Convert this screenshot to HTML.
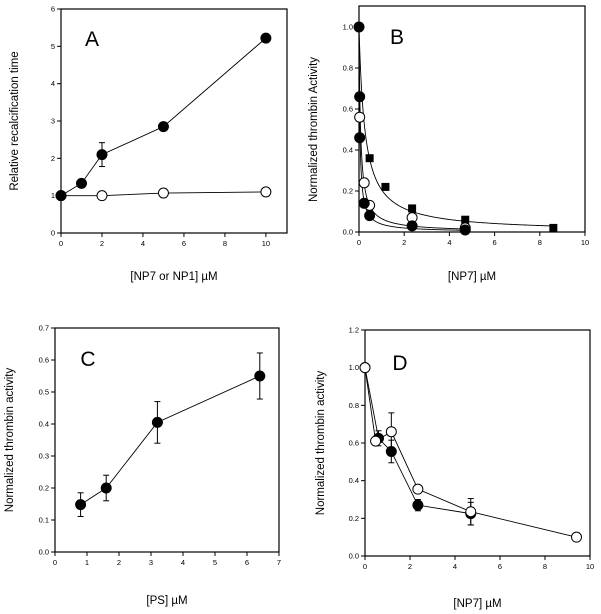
<!DOCTYPE html>
<html><head><meta charset="utf-8"><style>
body{margin:0;background:#fff}
svg{display:block;font-family:"Liberation Sans",sans-serif}
</style></head><body>
<svg id="s" width="601" height="614" viewBox="0 0 601 614"></svg>
<script>
// Panel A
const aX1=[0,1,2,5,10], aY1=[1,1.33,2.1,2.85,5.22], aE1=[0,0,0.32,0,0];
const aX2=[0,2,5,10], aY2=[1,1,1.07,1.1];
const aXT=[0,2,4,6,8,10], aYT=[0,1,2,3,4,5,6];
// Panel B
const bSqX=[0,0.47,1.17,2.35,4.7,8.6], bSqY=[1,0.36,0.22,0.115,0.06,0.02];
const bFcX=[0,0.03,0.03,0.23,0.47,2.35,4.7], bFcY=[1,0.66,0.46,0.14,0.08,0.03,0.01];
const bOcX=[0.03,0.23,0.47,2.35,4.7], bOcY=[0.56,0.24,0.13,0.07,0.02];
const bK=[0.26,0.04,0.07];
const bXT=[0,2,4,6,8,10], bYT=[0,0.2,0.4,0.6,0.8,1.0];
// Panel C
const cX=[0.8,1.6,3.2,6.4], cY=[0.148,0.2,0.405,0.55], cE=[0.037,0.04,0.065,0.072];
const cXT=[0,1,2,3,4,5,6,7], cYT=[0,0.1,0.2,0.3,0.4,0.5,0.6,0.7];
// Panel D
const dX1=[0,0.6,1.17,2.35,4.7], dY1=[1,0.625,0.555,0.27,0.225], dE1=[0,0.04,0.06,0.03,0.06];
const dX2=[0,0.47,1.17,2.35,4.7,9.4], dY2=[1,0.61,0.66,0.355,0.235,0.1], dE2=[0,0,0.1,0,0.07,0];
const dXT=[0,2,4,6,8,10], dYT=[0,0.2,0.4,0.6,0.8,1.0,1.2];

const S=document.getElementById('s');
function el(t,a,p){const e=document.createElementNS('http://www.w3.org/2000/svg',t);for(const k in a)e.setAttribute(k,a[k]);(p||S).appendChild(e);return e;}
function panel(o){
 const g=el('g',{});
 
 
 const sx=v=>o.l+(v-o.x0)/(o.x1-o.x0)*(o.r-o.l);
 const sy=v=>o.b-(v-o.y0)/(o.y1-o.y0)*(o.b-o.t0);
 const fr=el('rect',{x:o.l,y:o.top,width:o.r-o.l,height:o.b-o.top,fill:'none',stroke:'#000','stroke-width':1.2},g);
 
 
 o.xt.forEach(v=>{el('line',{x1:sx(v),x2:sx(v),y1:o.b,y2:o.b+4,stroke:'#000'},g);
  const t=el('text',{x:sx(v),y:o.b+13,'font-size':7.5,'text-anchor':'middle'},g);t.textContent=o.xf(v);
  });
 o.yt.forEach(v=>{el('line',{x1:o.l-4,x2:o.l,y1:sy(v),y2:sy(v),stroke:'#000'},g);
  const t=el('text',{x:o.l-6,y:sy(v)+2.5,'font-size':7.5,'text-anchor':'end'},g);t.textContent=o.yf(v);
  });
 const xt=el('text',{x:(o.l+o.r)/2,y:o.xty,'font-size':11.5,'text-anchor':'middle'},g);xt.textContent=o.xl;
 
 const yt=el('text',{x:0,y:0,'font-size':11.5,'text-anchor':'middle',transform:`translate(${o.ytx},${(o.t0+o.b)/2}) rotate(-90)`},g);yt.textContent=o.yl;
 
 const pl=el('text',{x:o.lx,y:o.ly,'font-size':21,'text-anchor':'middle'},g);pl.textContent=o.id;
 
 return {g,sx,sy};
}
function series(P,xs,ys,es,type,line,name){
 const g=el('g',{},P.g);
 
 
 if(line) el('polyline',{points:xs.map((x,i)=>P.sx(x)+','+P.sy(ys[i])).join(' '),fill:'none',stroke:'#000','stroke-width':0.9},g);
 xs.forEach((x,i)=>{
  const cx=P.sx(x),cy=P.sy(ys[i]);
  if(es&&es[i]){const a=P.sy(ys[i]+es[i]),b=P.sy(ys[i]-es[i]);
   el('line',{x1:cx,x2:cx,y1:a,y2:b,stroke:'#000'},g);
   el('line',{x1:cx-3,x2:cx+3,y1:a,y2:a,stroke:'#000'},g);
   el('line',{x1:cx-3,x2:cx+3,y1:b,y2:b,stroke:'#000'},g);}
  let m;
  if(type==='sq') m=el('rect',{x:cx-4,y:cy-4,width:8,height:8,fill:'#000'},g);
  else m=el('circle',{cx,cy,r:5,fill:type==='open'?'#fff':'#000',stroke:'#000','stroke-width':1},g);
  
  
 });
}
function fit(P,K,xmax,name){
 const pts=[];for(let i=0;i<=200;i++){const x=xmax*Math.pow(i/200,2);pts.push(P.sx(x)+','+P.sy(1/(1+x/K)));}
 const p=el('polyline',{points:pts.join(' '),fill:'none',stroke:'#000','stroke-width':0.9},P.g);
 
}
const f0=v=>String(v), f1=v=>v.toFixed(1);
const A=panel({id:'A',l:61,r:287,top:9,t0:9,b:233,x0:0,x1:11.03,y0:0,y1:6,xt:aXT,yt:aYT,xf:f0,yf:f0,
 xl:'[NP7 or NP1] \u00b5M',yl:'Relative recalcification time',xty:280,ytx:18,lx:92,ly:46});
series(A,aX2,aY2,null,'open',true,'series-np1-open');
series(A,aX1,aY1,aE1,'filled',true,'series-np7-filled');
const B=panel({id:'B',l:359,r:585,top:6,t0:27,b:232,x0:0,x1:10,y0:0,y1:1,xt:bXT,yt:bYT,xf:f0,yf:f1,
 xl:'[NP7] \u00b5M',yl:'Normalized thrombin Activity',xty:280,ytx:317,lx:397,ly:44});
fit(B,bK[0],8.6,'fit-curve-squares');fit(B,bK[1],4.7,'fit-curve-filled');fit(B,bK[2],4.7,'fit-curve-open');
series(B,bSqX,bSqY,null,'sq',false,'series-squares');
series(B,bOcX,bOcY,null,'open',false,'series-open-circles');
series(B,bFcX,bFcY,null,'filled',false,'series-filled-circles');
const C=panel({id:'C',l:55,r:279,top:328,t0:328,b:552,x0:0,x1:7,y0:0,y1:0.7,xt:cXT,yt:cYT,xf:f0,yf:f1,
 xl:'[PS] \u00b5M',yl:'Normalized thrombin activity',xty:604,ytx:13,lx:88,ly:366});
series(C,cX,cY,cE,'filled',true,'series-ps');
const D=panel({id:'D',l:365,r:590,top:330,t0:330,b:556,x0:0,x1:10,y0:0,y1:1.2,xt:dXT,yt:dYT,xf:f0,yf:f1,
 xl:'[NP7] \u00b5M',yl:'Normalized thrombin activity',xty:607,ytx:324,lx:400,ly:370});
series(D,dX1,dY1,dE1,'filled',true,'series-filled');
series(D,dX2,dY2,dE2,'open',true,'series-open');
</script>
</body></html>
